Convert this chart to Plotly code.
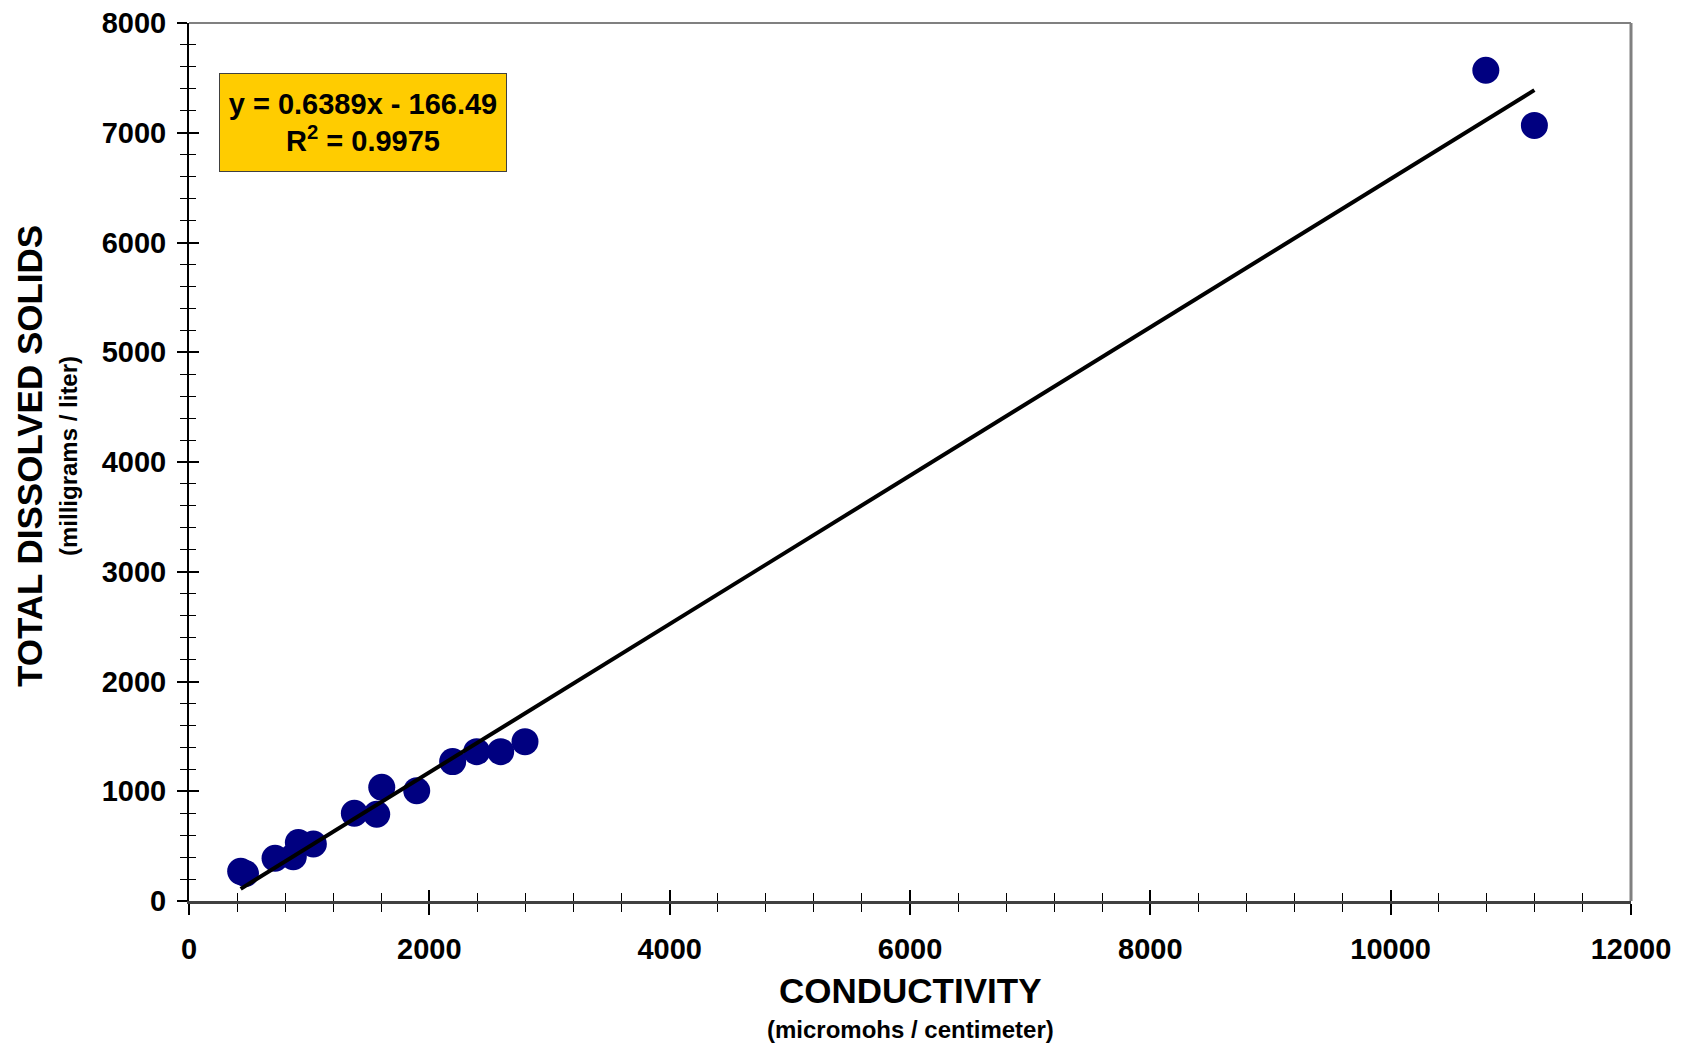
import numpy as np
import plotly.graph_objects as go

# Data
conductivity = [430, 470, 716, 868, 910, 1035, 1376, 1562, 1604, 1895, 2194, 2394, 2594, 2796, 10792, 11196]
tds = [270, 250, 389, 404, 532, 520, 799, 790, 1036, 1005, 1270, 1361, 1361, 1452, 7569, 7067]

x_ticks = [0, 2000, 4000, 6000, 8000, 10000, 12000]
y_ticks = [0, 1000, 2000, 3000, 4000, 5000, 6000, 7000, 8000]
equation_text = "y = 0.6389x - 166.49<br>R<sup>2</sup> = 0.9975"

# trend line from least squares fit
slope, intercept = np.polyfit(conductivity, tds, 1)
x_line = np.array([min(conductivity), max(conductivity)])
y_line = slope * x_line + intercept

FONT = "Liberation Sans, Arial, sans-serif"

fig = go.Figure()
fig.add_trace(go.Scatter(x=conductivity, y=tds, mode="markers",
                         marker=dict(size=27, color="#000080", line=dict(width=0)),
                         showlegend=False, hoverinfo="x+y"))
fig.add_trace(go.Scatter(x=x_line, y=y_line, mode="lines",
                         line=dict(color="black", width=4), showlegend=False))
# invisible trace for overlay axes (inner half of crossing ticks)
fig.add_trace(go.Scatter(x=[None], y=[None], xaxis="x2", yaxis="y2",
                         showlegend=False, hoverinfo="skip"))

tickfont = dict(family=FONT, size=29, color="black", weight="bold")

fig.update_layout(
    width=1685, height=1044,
    margin=dict(l=181, r=62, t=15, b=151),
    paper_bgcolor="white", plot_bgcolor="white",
    xaxis=dict(range=[0, 12000], tickvals=x_ticks, ticktext=[str(v) for v in x_ticks],
               ticks="outside", ticklen=11, tickwidth=1.5,
               tickcolor="black", showgrid=False, zeroline=False, automargin=False,
               showline=True, linecolor="#404040", linewidth=3,
               tickfont=tickfont, ticklabelstandoff=9, ticklabeloverflow="allow",
               minor=dict(dtick=400, ticks="outside", ticklen=8, tickwidth=1, tickcolor="black", showgrid=False)),
    yaxis=dict(range=[0, 8000], tickvals=y_ticks, ticktext=[str(v) for v in y_ticks],
               ticks="outside", ticklen=10, tickwidth=1.5,
               tickcolor="black", showgrid=False, zeroline=False, automargin=False,
               showline=True, linecolor="black", linewidth=2,
               tickfont=tickfont, ticklabelstandoff=5, ticklabeloverflow="allow",
               minor=dict(dtick=200, ticks="outside", ticklen=7, tickwidth=1, tickcolor="black", showgrid=False)),
    xaxis2=dict(range=[0, 12000], overlaying="x", anchor="y", side="bottom", tickvals=x_ticks,
                ticks="inside", ticklen=11, tickwidth=1.5, tickcolor="black", automargin=False,
                showticklabels=False, showgrid=False, zeroline=False, showline=False,
                minor=dict(dtick=400, ticks="inside", ticklen=8, tickwidth=1, tickcolor="black", showgrid=False)),
    yaxis2=dict(range=[0, 8000], overlaying="y", anchor="x", side="left", tickvals=y_ticks,
                ticks="inside", ticklen=10, tickwidth=1.5, tickcolor="black", automargin=False,
                showticklabels=False, showgrid=False, zeroline=False, showline=False,
                minor=dict(dtick=200, ticks="inside", ticklen=7, tickwidth=1, tickcolor="black", showgrid=False)),
    shapes=[
        dict(type="line", xref="paper", yref="paper", x0=0, x1=1, y0=1, y1=1,
             line=dict(color="#808080", width=2)),
        dict(type="line", xref="paper", yref="paper", x0=1, x1=1, y0=0, y1=1,
             line=dict(color="#808080", width=3)),
    ],
)

annotations = [
    dict(text="<b>CONDUCTIVITY</b>", xref="paper", yref="paper", x=0.5, y=0,
         xanchor="center", yanchor="middle", yshift=-89, showarrow=False,
         font=dict(family=FONT, size=35, color="black")),
    dict(text="<b>(micromohs / centimeter)</b>", xref="paper", yref="paper", x=0.5, y=0,
         xanchor="center", yanchor="middle", yshift=-128, showarrow=False,
         font=dict(family=FONT, size=24, color="black")),
    dict(text="<b>TOTAL DISSOLVED SOLIDS</b>", xref="paper", yref="paper", x=0, y=0.5,
         xanchor="center", yanchor="middle", xshift=-160, yshift=6, textangle=-90, showarrow=False,
         font=dict(family=FONT, size=35, color="black")),
    dict(text="<b>(milligrams / liter)</b>", xref="paper", yref="paper", x=0, y=0.5,
         xanchor="center", yanchor="middle", xshift=-121, yshift=6, textangle=-90, showarrow=False,
         font=dict(family=FONT, size=24, color="black")),
    dict(text="<b>" + equation_text + "</b>", xref="paper", yref="paper",
         x=(219 - 189) / 1442, y=(901 - 73) / 878,
         xanchor="left", yanchor="top", showarrow=False,
         width=284, height=95, align="center", valign="middle",
         bgcolor="#FFCC00", bordercolor="#404040", borderwidth=1, borderpad=1,
         font=dict(family=FONT, size=29, color="black")),
]
fig.update_layout(annotations=annotations)

fig.write_html("out.html")
